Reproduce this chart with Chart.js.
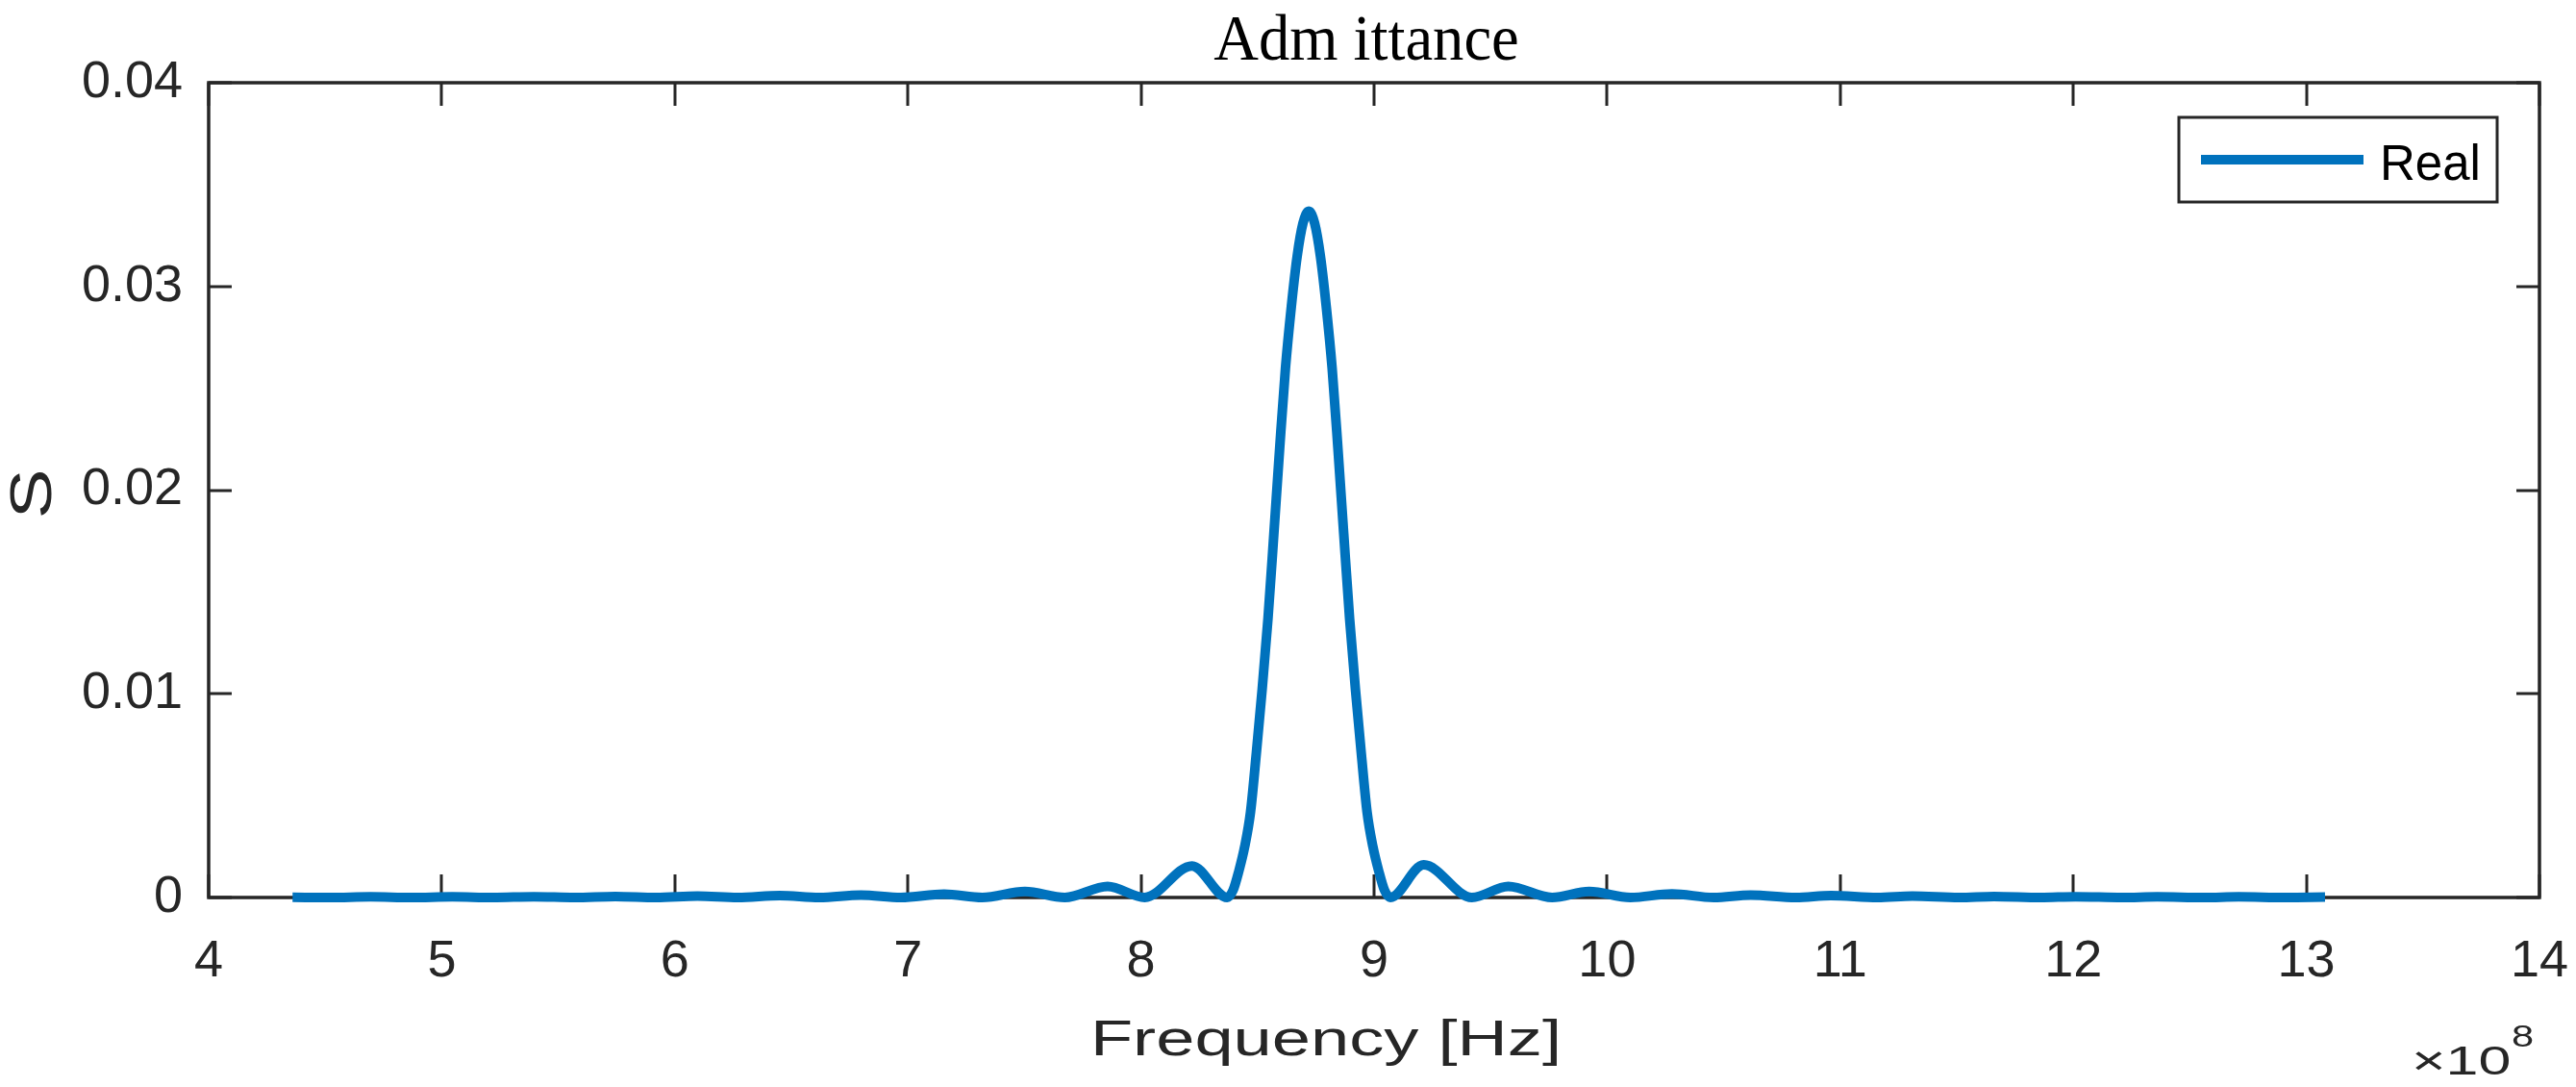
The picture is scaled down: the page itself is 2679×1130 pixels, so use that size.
<!DOCTYPE html>
<html lang="en">
<head>
    <meta charset="UTF-8">
    <title>Admittance</title>
    <style>
        body {
            margin: 0;
            padding: 0;
            background-color: #fff;
        }
        #admChart {
            display: block;
        }
    </style>
</head>
<body>
    <canvas id="admChart" width="2679" height="1130"></canvas>

    <script src="https://cdn.jsdelivr.net/npm/chart.js"></script>
    <script>
        // Frequency in units of 1e8 Hz (the axis shows a x10^8 multiplier)
        const freqs = [
            4.36, 4.52, 4.695, 4.87, 5.045, 5.22, 5.395, 5.57, 5.745, 5.92,
            6.097, 6.27, 6.45, 6.62, 6.798, 6.97, 7.155, 7.319, 7.502, 7.673,
            7.857, 8.016, 8.219,
            8.37, 8.395, 8.42, 8.445, 8.47, 8.495, 8.52, 8.545, 8.57, 8.595,
            8.62, 8.645, 8.67, 8.695, 8.72, 8.745, 8.77, 8.795, 8.82, 8.845,
            8.87, 8.895, 8.92, 8.945, 8.97, 8.995, 9.02, 9.045, 9.07,
            9.213, 9.42, 9.576, 9.764, 9.923, 10.1, 10.278, 10.457, 10.616, 10.81,
            10.96, 11.16, 11.31, 11.51, 11.66, 11.86, 12.01, 12.21, 12.36, 12.56,
            12.71, 12.91, 13.08
        ];

        // Real part of the admittance, S
        const realS = [
            0.00001, 0, 0.00003, 0, 0.00003, 0, 0.00004, 0, 0.00005, 0,
            0.00007, 0, 0.00009, 0, 0.00012, 0, 0.000165, 0, 0.00029, 0,
            0.00054, 0, 0.00155,
            0, 0.00035, 0.0013, 0.0025, 0.0042, 0.0071, 0.01023, 0.0137, 0.01783, 0.02205,
            0.026, 0.029, 0.03147, 0.0331, 0.03369, 0.0331, 0.03147, 0.029, 0.026, 0.02205,
            0.01783, 0.0137, 0.01023, 0.0071, 0.0042, 0.0025, 0.0013, 0.00035, 0,
            0.0016, 0, 0.00054, 0, 0.00029, 0, 0.00018, 0, 0.00012, 0,
            0.00009, 0, 0.00007, 0, 0.00005, 0, 0.00004, 0, 0.00003, 0,
            0.00003, 0, 0.00002
        ];

        const xTickLabels = ['4', '5', '6', '7', '8', '9', '10', '11', '12', '13', '14'];
        const yTickLabels = ['0', '0.01', '0.02', '0.03', '0.04'];

        const axisColor = '#262626';
        const lineColor = '#0072BD';
        const sansFont = '"Liberation Sans", Arial, sans-serif';

        // draws a string squeezed / stretched horizontally
        function drawScaledText(ctx, text, x, y, font, sx, color, align) {
            ctx.save();
            ctx.font = font;
            ctx.fillStyle = color;
            ctx.textAlign = align || 'center';
            ctx.textBaseline = 'alphabetic';
            ctx.translate(x, y);
            ctx.scale(sx, 1);
            ctx.fillText(text, 0, 0);
            ctx.restore();
        }

        // MATLAB style box, inward ticks, titles and legend
        const matlabAxes = {
            id: 'matlabAxes',
            beforeDatasetsDraw(chart) {
                const ctx = chart.ctx;
                const area = chart.chartArea;
                const xs = chart.scales.x;
                const ys = chart.scales.y;
                const tickLen = 24;

                ctx.save();
                ctx.strokeStyle = axisColor;
                ctx.lineWidth = 3;
                ctx.beginPath();
                xs.ticks.forEach(t => {
                    const px = Math.round(xs.getPixelForValue(t.value));
                    ctx.moveTo(px, area.bottom);
                    ctx.lineTo(px, area.bottom - tickLen);
                    ctx.moveTo(px, area.top);
                    ctx.lineTo(px, area.top + tickLen);
                });
                ys.ticks.forEach(t => {
                    const py = Math.round(ys.getPixelForValue(t.value));
                    ctx.moveTo(area.left, py);
                    ctx.lineTo(area.left + tickLen, py);
                    ctx.moveTo(area.right, py);
                    ctx.lineTo(area.right - tickLen, py);
                });
                ctx.stroke();
                ctx.lineWidth = 3.5;
                ctx.strokeRect(area.left, area.top, area.right - area.left, area.bottom - area.top);
                ctx.restore();
            },
            afterDraw(chart) {
                const ctx = chart.ctx;
                const area = chart.chartArea;
                const midX = (area.left + area.right) / 2;

                // title
                drawScaledText(ctx, 'Adm ittance', midX - 8, 62, '68px "Liberation Serif", serif', 0.95, '#000');

                // x axis title and exponent
                drawScaledText(ctx, 'Frequency [Hz]', midX - 50, 1097, '52px ' + sansFont, 1.39, axisColor);
                drawScaledText(ctx, '\u00d710', 2508, 1117, '42px ' + sansFont, 1.45, axisColor, 'left');
                drawScaledText(ctx, '8', 2612, 1088, '32px ' + sansFont, 1.3, axisColor, 'left');

                // y axis title
                ctx.save();
                ctx.font = '62px ' + sansFont;
                ctx.fillStyle = axisColor;
                ctx.textAlign = 'center';
                ctx.textBaseline = 'alphabetic';
                ctx.translate(53, (area.top + area.bottom) / 2 + 4);
                ctx.rotate(-Math.PI / 2);
                ctx.scale(1.25, 1);
                ctx.fillText('S', 0, 0);
                ctx.restore();

                // legend box in the upper right corner
                const ds = chart.data.datasets[0];
                const boxW = 331, boxH = 88;
                const bx = area.right - 44 - boxW;
                const by = area.top + 36;
                ctx.save();
                ctx.fillStyle = '#fff';
                ctx.fillRect(bx, by, boxW, boxH);
                ctx.strokeStyle = axisColor;
                ctx.lineWidth = 3;
                ctx.strokeRect(bx, by, boxW, boxH);
                ctx.strokeStyle = ds.borderColor;
                ctx.lineWidth = 10;
                ctx.beginPath();
                ctx.moveTo(bx + 23, by + 44);
                ctx.lineTo(bx + 192, by + 44);
                ctx.stroke();
                ctx.fillStyle = '#000';
                ctx.font = '51px ' + sansFont;
                ctx.textAlign = 'left';
                ctx.textBaseline = 'alphabetic';
                ctx.fillText(ds.label, bx + 209, by + 65);
                ctx.restore();
            }
        };

        const ctx = document.getElementById('admChart').getContext('2d');
        const chart = new Chart(ctx, {
            type: 'line',
            data: {
                datasets: [{
                    label: 'Real',
                    data: freqs.map((f, i) => ({ x: f, y: realS[i] })),
                    borderColor: lineColor,
                    borderWidth: 10,
                    pointRadius: 0,
                    fill: false,
                    cubicInterpolationMode: 'monotone',
                    clip: false
                }]
            },
            options: {
                responsive: false,
                devicePixelRatio: 1,
                animation: false,
                layout: {
                    padding: { left: 0, top: 86, right: 38, bottom: 0 }
                },
                plugins: {
                    legend: { display: false },
                    title: { display: false },
                    tooltip: { enabled: false }
                },
                scales: {
                    x: {
                        type: 'linear',
                        min: 4,
                        max: 14,
                        afterFit: s => {
                            s.height = 197;
                            s.paddingLeft = 0;
                            s.paddingRight = 0;
                        },
                        grid: { display: false, drawTicks: false },
                        border: { display: false },
                        ticks: {
                            stepSize: 1,
                            padding: 35,
                            maxRotation: 0,
                            autoSkip: false,
                            color: axisColor,
                            font: { family: sansFont, size: 54 },
                            callback: (v, i) => xTickLabels[i]
                        }
                    },
                    y: {
                        min: 0,
                        max: 0.04,
                        afterFit: s => {
                            s.width = 217;
                            s.paddingTop = 0;
                            s.paddingBottom = 0;
                        },
                        grid: { display: false, drawTicks: false },
                        border: { display: false },
                        ticks: {
                            stepSize: 0.01,
                            padding: 27,
                            color: axisColor,
                            font: { family: sansFont, size: 54 },
                            callback: (v, i) => yTickLabels[i]
                        }
                    }
                }
            },
            plugins: [matlabAxes]
        });
    </script>
</body>
</html>
